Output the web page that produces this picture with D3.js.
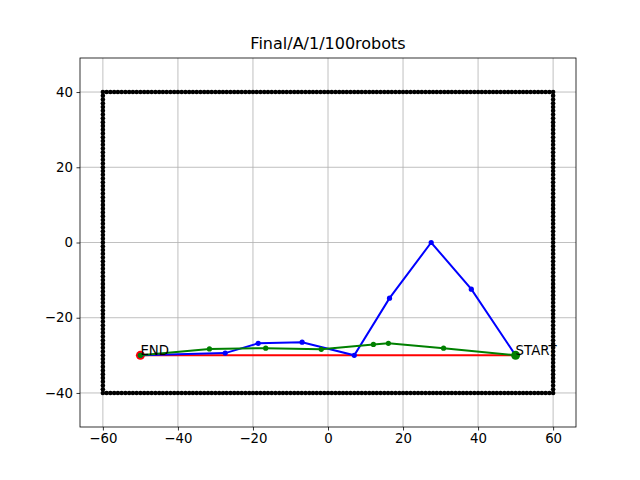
<!DOCTYPE html>
<html><head><meta charset="utf-8">
<script src="https://cdn.jsdelivr.net/npm/d3@7"></script>
<style>body{margin:0;background:#fff}svg{display:block}text{font-family:"DejaVu Sans",sans-serif}</style>
</head><body>
<svg id="c" width="640" height="480"></svg>
<script>
const title = "Final/A/1/100robots";
const xTicks = [-60,-40,-20,0,20,40,60];
const yTicks = [-40,-20,0,20,40];
const boundaryX = [-60, 60];
const boundaryY = [-40, 40];
const blueX = [50, 38.2, 27.5, 16.4, 7.0, -6.9, -18.6, -27.4, -50];
const blueY = [-30, -12.4, 0, -14.8, -30, -26.5, -26.8, -29.4, -30];
const greenX = [50, 30.8, 16.1, 12.1, -1.8, -16.6, -31.6, -50];
const greenY = [-30, -28.1, -26.8, -27.1, -28.4, -28.1, -28.3, -30];
const redX = [50, -50];
const redY = [-30, -30];
const startPt = [50, -30];
const endPt = [-50, -30];

// boundary points at unit spacing
const boundary = [];
for (let x = boundaryX[0]; x <= boundaryX[1]; x++) { boundary.push([x, boundaryY[0]]); boundary.push([x, boundaryY[1]]); }
for (let y = boundaryY[0]+1; y < boundaryY[1]; y++) { boundary.push([boundaryX[0], y]); boundary.push([boundaryX[1], y]); }

const svg = d3.select("#c");
const L = 80, R = 576, T = 58, B = 427;
const x = d3.scaleLinear().domain([-66.1, 66.1]).range([L, R]);
const y = d3.scaleLinear().domain([-49.05, 49.05]).range([B, T]);

// grid
const g = svg.append("g");
g.selectAll(".gx").data(xTicks).enter().append("line")
  .attr("x1", d=>x(d)).attr("x2", d=>x(d)).attr("y1", T).attr("y2", B)
  .attr("stroke", "#b0b0b0").attr("stroke-width", 0.8);
g.selectAll(".gy").data(yTicks).enter().append("line")
  .attr("y1", d=>y(d)).attr("y2", d=>y(d)).attr("x1", L).attr("x2", R)
  .attr("stroke", "#b0b0b0").attr("stroke-width", 0.8);

// boundary dots
svg.append("g").selectAll("circle").data(boundary).enter().append("circle")
  .attr("cx", d=>x(d[0])).attr("cy", d=>y(d[1])).attr("r", 2.3).attr("fill", "#000");

const line = d3.line().x(d=>x(d[0])).y(d=>y(d[1]));
function series(xs, ys, color, markers) {
  const pts = xs.map((v,i)=>[v, ys[i]]);
  svg.append("path").attr("d", line(pts)).attr("fill","none").attr("stroke", color).attr("stroke-width", 2);
  if (markers) svg.append("g").selectAll("circle").data(pts).enter().append("circle")
    .attr("cx", d=>x(d[0])).attr("cy", d=>y(d[1])).attr("r", 2.6).attr("fill", color);
}
series(redX, redY, "red", false);
svg.append("circle").attr("cx", x(endPt[0])).attr("cy", y(endPt[1])).attr("r", 4.5).attr("fill", "red");
series(blueX, blueY, "blue", true);
series(greenX, greenY, "green", true);

svg.append("circle").attr("cx", x(startPt[0])).attr("cy", y(startPt[1])).attr("r", 4.5).attr("fill", "green");
svg.append("text").attr("x", x(startPt[0])).attr("y", y(startPt[1])).attr("font-size", "13.33px").text("START");
svg.append("text").attr("x", x(endPt[0])).attr("y", y(endPt[1])).attr("font-size", "13.33px").text("END");

// axes
const ax = svg.append("g").attr("transform", `translate(0,${B})`).call(d3.axisBottom(x).tickValues(xTicks).tickSize(3.5).tickPadding(3.5).tickFormat(d=>d<0?"\u2212"+(-d):d));
const ay = svg.append("g").attr("transform", `translate(${L},0)`).call(d3.axisLeft(y).tickValues(yTicks).tickSize(3.5).tickPadding(3.5).tickFormat(d=>d<0?"\u2212"+(-d):d));
[ax, ay].forEach(a=>{
  a.select(".domain").remove();
  a.selectAll("text").attr("font-size", "13.33px").attr("font-family", "DejaVu Sans").attr("fill", "#000");
  a.selectAll("line").attr("stroke", "#000").attr("stroke-width", 0.8);
});
svg.append("rect").attr("x", L).attr("y", T).attr("width", R-L).attr("height", B-T)
  .attr("fill", "none").attr("stroke", "#000").attr("stroke-width", 0.8);

svg.append("text").attr("x", (L+R)/2).attr("y", 49).attr("text-anchor", "middle").attr("font-size", "16px").text(title);
</script>
</body></html>
